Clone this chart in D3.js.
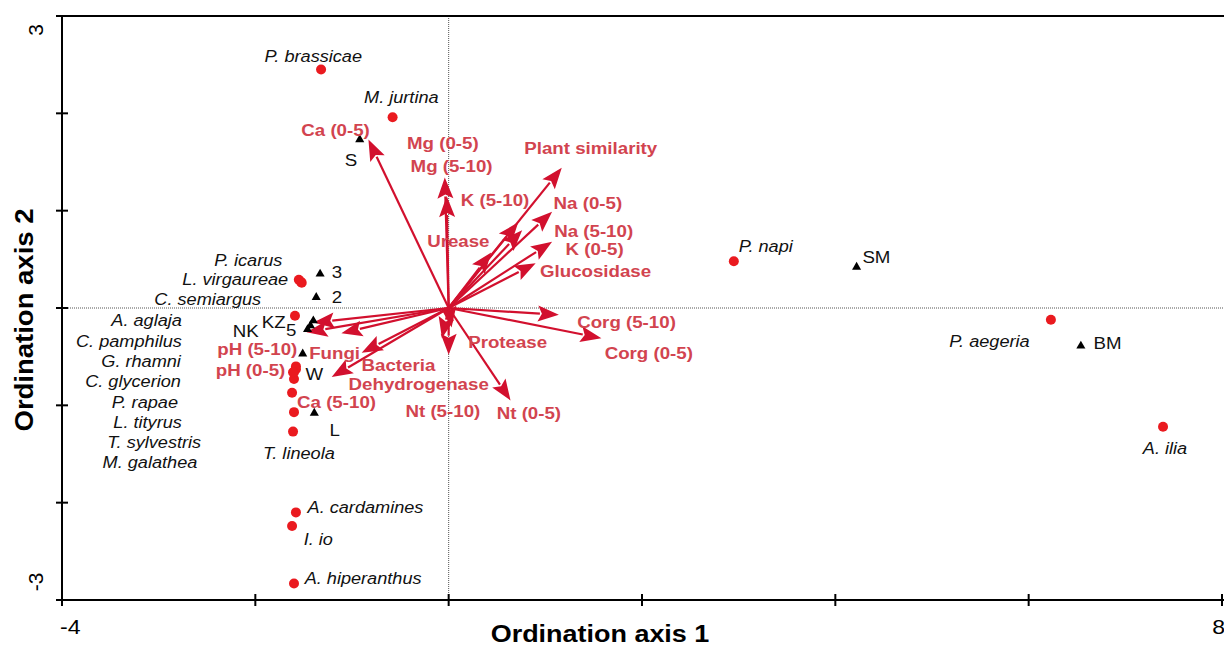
<!DOCTYPE html>
<html><head><meta charset="utf-8">
<script src="https://cdn.jsdelivr.net/npm/d3@7"></script>
<style>body{margin:0;background:#fff}svg{display:block}</style>
</head><body><svg id="c" width="1224" height="649"></svg>
<script>
// ---------- data ----------
const xTickLabels = ["-4", "8"];
const yTickLabels = ["3", "-3"];
const xTicks = [-4, -2, 0, 2, 4, 6, 8];
const yTicks = [-3, -2, -1, 0, 1, 2, 3];

const speciesNames = ["P. brassicae","M. jurtina","P. icarus","L. virgaureae","C. semiargus","A. aglaja","C. pamphilus","G. rhamni","C. glycerion","P. rapae","L. tityrus","T. sylvestris","M. galathea","T. lineola","A. cardamines","I. io","A. hiperanthus","P. napi","P. aegeria","A. ilia"];
const speciesX = [-1.32,-0.58,-1.55,-1.52,-1.53,-1.59,-1.58,-1.58,-1.60,-1.60,-1.62,-1.60,-1.61,-1.61,-1.58,-1.62,-1.60,2.95,6.23,7.39];
const speciesY = [2.45,1.96,0.29,0.26,0.27,-0.08,-0.60,-0.63,-0.66,-0.73,-0.87,-1.07,-0.66,-1.27,-2.10,-2.24,-2.83,0.48,-0.12,-1.22];
const speciesLabelX = [-1.40,-0.49,-1.72,-1.66,-1.94,-2.76,-2.76,-2.77,-2.77,-2.80,-2.76,-2.56,-2.60,-1.55,-1.46,-1.50,-1.49,3.00,6.01,7.41];
const speciesLabelY = [2.59,2.17,0.49,0.30,0.09,-0.12,-0.34,-0.54,-0.75,-0.97,-1.17,-1.38,-1.58,-1.49,-2.05,-2.37,-2.77,0.64,-0.34,-1.44];
const speciesLabelAnchor = ["middle","middle","end","end","end","end","end","end","end","end","end","end","end","middle","start","start","start","start","end","middle"];

const siteNames = ["S","3","2","KZ","5","NK","W","L","SM","BM"];
const siteX = [-0.92,-1.33,-1.37,-1.40,-1.43,-1.46,-1.51,-1.39,4.22,6.54];
const siteY = [1.73,0.35,0.11,-0.13,-0.18,-0.22,-0.47,-1.08,0.42,-0.39];
const siteLabelX = [-1.01,-1.21,-1.21,-1.81,-1.63,-2.10,-1.39,-1.18,4.28,6.67];
const siteLabelY = [1.52,0.37,0.11,-0.14,-0.22,-0.24,-0.68,-1.25,0.53,-0.36];
const siteLabelAnchor = ["middle","start","start","middle","middle","middle","middle","middle","start","start"];

const envNames = ["Ca (0-5)","Mg (0-5)","Mg (5-10)","Plant similarity","K (5-10)","Na (0-5)","Urease","Na (5-10)","K (0-5)","Glucosidase","Corg (5-10)","Corg (0-5)","Protease","Nt (0-5)","Nt (5-10)","Dehydrogenase","Bacteria","Fungi","pH (5-10)","pH (0-5)","Ca (5-10)"];
const envX = [-0.83,-0.04,-0.02,1.17,0.72,1.07,0.44,1.07,0.76,0.90,1.14,1.58,0.03,0.64,0.00,-0.07,-0.90,-1.11,-1.40,-1.47,-1.21];
const envY = [1.73,1.34,1.15,1.44,0.88,0.99,0.57,0.68,0.80,0.46,-0.07,-0.31,-0.20,-0.95,-0.48,-0.31,-0.46,-0.26,-0.15,-0.25,-0.71];
const envLabelX = [-1.17,-0.06,0.03,1.47,0.48,1.44,0.10,1.50,1.51,1.52,1.84,2.07,0.61,0.83,-0.06,-0.31,-0.52,-1.18,-1.98,-2.05,-1.16];
const envLabelY = [1.83,1.70,1.46,1.65,1.11,1.08,0.69,0.79,0.61,0.38,-0.14,-0.46,-0.35,-1.08,-1.06,-0.78,-0.58,-0.46,-0.42,-0.64,-0.96];

// ---------- drawing ----------
const svg = d3.select("#c");
const font = "Arial, 'Liberation Sans', sans-serif";
const SX = 1.1; // horizontal stretch of the original lettering
const x = d3.scaleLinear().domain([-4, 8]).range([62, 1222]);
const y = d3.scaleLinear().domain([-3, 3]).range([600, 16]);

// zero lines
svg.append("line").attr("x1", x(0)).attr("x2", x(0)).attr("y1", y(3)).attr("y2", y(-3))
  .attr("stroke", "#555").attr("stroke-width", 1).attr("stroke-dasharray", "1,1");
svg.append("line").attr("x1", x(-4)).attr("x2", 1224).attr("y1", y(0)).attr("y2", y(0))
  .attr("stroke", "#555").attr("stroke-width", 1).attr("stroke-dasharray", "1,1");

// axes frame
const ax = svg.append("g").attr("stroke", "#000").attr("stroke-width", 2);
ax.append("line").attr("x1", x(-4)).attr("x2", x(-4)).attr("y1", y(3)).attr("y2", y(-3));
ax.append("line").attr("x1", x(-4) - 6).attr("x2", 1224).attr("y1", y(-3)).attr("y2", y(-3));
ax.append("line").attr("x1", x(-4) - 6).attr("x2", 1224).attr("y1", y(3)).attr("y2", y(3));
xTicks.forEach(t => ax.append("line").attr("x1", x(t)).attr("x2", x(t)).attr("y1", y(-3) - 6).attr("y2", y(-3) + 6));
yTicks.forEach(t => ax.append("line").attr("x1", x(-4) - 6).attr("x2", x(-4) + 6).attr("y1", y(t)).attr("y2", y(t)));

// tick labels
svg.append("text").attr("transform", `translate(${x(-4) - 2},634) scale(${SX},1)`).attr("text-anchor", "start")
  .attr("font-family", font).attr("font-size", 21).text(xTickLabels[0]);
svg.append("text").attr("transform", `translate(1225,634) scale(${SX},1)`).attr("text-anchor", "end")
  .attr("font-family", font).attr("font-size", 21).text(xTickLabels[1]);
svg.append("text").attr("transform", `translate(43,${y(3) + 14}) rotate(-90)`).attr("text-anchor", "middle")
  .attr("font-family", font).attr("font-size", 21).text(yTickLabels[0]);
svg.append("text").attr("transform", `translate(43,${y(-3) - 18}) rotate(-90)`).attr("text-anchor", "middle")
  .attr("font-family", font).attr("font-size", 21).text(yTickLabels[1]);

// axis titles
svg.append("text").attr("transform", `translate(600,642) scale(${SX},1)`).attr("text-anchor", "middle")
  .attr("font-family", font).attr("font-size", 24.5).attr("font-weight", "bold").text("Ordination axis 1");
svg.append("text").attr("transform", `translate(33,320) rotate(-90) scale(${SX},1)`).attr("text-anchor", "middle")
  .attr("font-family", font).attr("font-size", 25).attr("font-weight", "bold").text("Ordination axis 2");

// arrows
const arrowColor = "#d2102e";
const ga = svg.append("g");
envNames.forEach((n, i) => {
  const x0 = x(0), y0 = y(0), x1 = x(envX[i]), y1 = y(envY[i]);
  const dx = x1 - x0, dy = y1 - y0, L = Math.hypot(dx, dy);
  const ux = dx / L, uy = dy / L, hl = 21, hw = 8;
  const bx = x1 - ux * hl, by = y1 - uy * hl;
  ga.append("line").attr("x1", x0).attr("y1", y0).attr("x2", bx + ux * 2).attr("y2", by + uy * 2)
    .attr("stroke", arrowColor).attr("stroke-width", 2.2);
  ga.append("path").attr("d", `M${x1},${y1}L${bx - uy * hw},${by + ux * hw}L${bx + ux * 4},${by + uy * 4}L${bx + uy * hw},${by - ux * hw}Z`)
    .attr("fill", arrowColor);
});

// species points
svg.append("g").selectAll("circle").data(speciesNames).join("circle")
  .attr("cx", (d, i) => x(speciesX[i])).attr("cy", (d, i) => y(speciesY[i])).attr("r", 5)
  .attr("fill", "#ea1a1f");

// site triangles
svg.append("g").selectAll("path").data(siteNames).join("path")
  .attr("transform", (d, i) => `translate(${x(siteX[i])},${y(siteY[i])})`)
  .attr("d", d3.symbol(d3.symbolTriangle, 36)).attr("fill", "#000");

// labels
svg.append("g").selectAll("text").data(speciesNames).join("text")
  .attr("transform", (d, i) => `translate(${x(speciesLabelX[i])},${y(speciesLabelY[i])}) scale(${SX},1)`)
  .attr("dy", "0.36em").attr("text-anchor", (d, i) => speciesLabelAnchor[i])
  .attr("font-family", font).attr("font-size", 16.5).attr("font-style", "italic").attr("fill", "#111").text(d => d);

svg.append("g").selectAll("text").data(siteNames).join("text")
  .attr("transform", (d, i) => `translate(${x(siteLabelX[i])},${y(siteLabelY[i])}) scale(${SX},1)`)
  .attr("dy", "0.36em").attr("text-anchor", (d, i) => siteLabelAnchor[i])
  .attr("font-family", font).attr("font-size", 17).attr("fill", "#111").text(d => d);

svg.append("g").selectAll("text").data(envNames).join("text")
  .attr("transform", (d, i) => `translate(${x(envLabelX[i])},${y(envLabelY[i])}) scale(${SX},1)`)
  .attr("dy", "0.36em").attr("text-anchor", "middle")
  .attr("font-family", font).attr("font-size", 17).attr("font-weight", "bold").attr("fill", "#d2444f").text(d => d);
</script></body></html>
